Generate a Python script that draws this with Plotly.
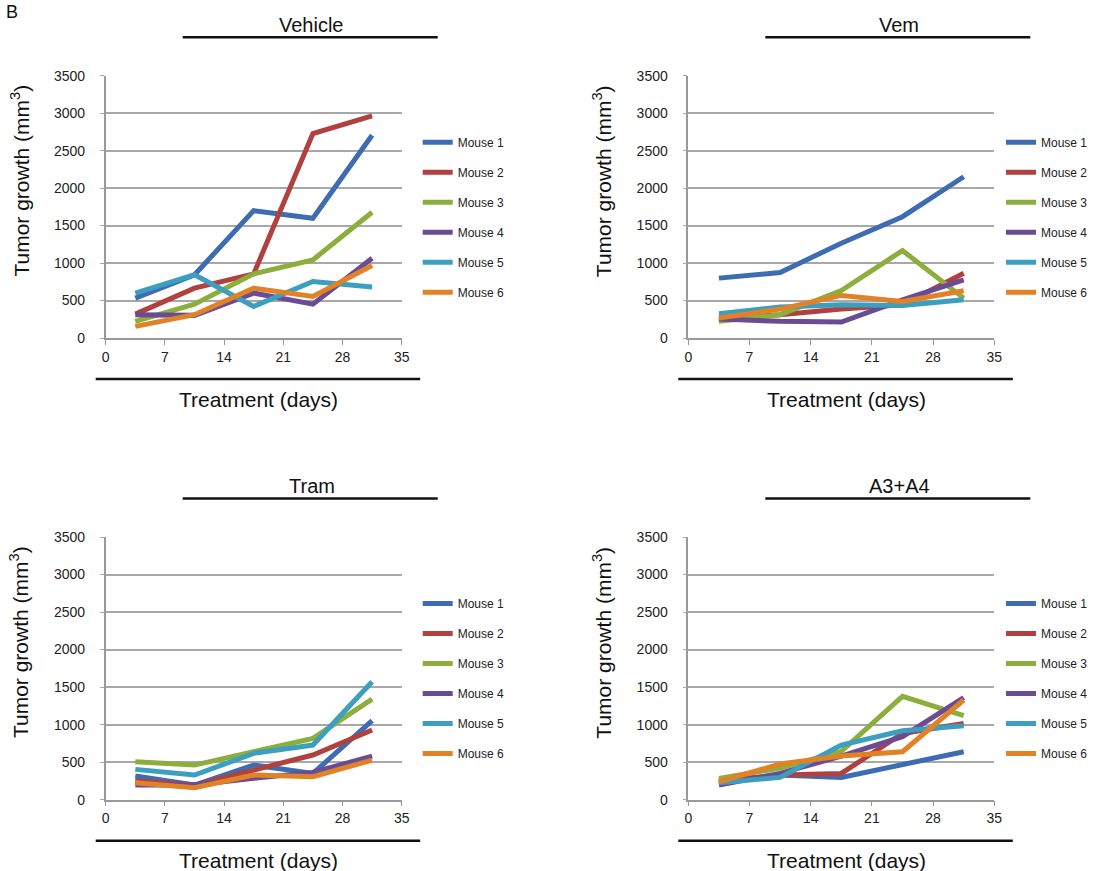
import plotly.graph_objects as go

W, H = 1093, 871

days = [3.5, 10.5, 17.5, 24.5, 31.5]
mice = ["Mouse 1", "Mouse 2", "Mouse 3", "Mouse 4", "Mouse 5", "Mouse 6"]
colors = ["#3d6cb3", "#b0413e", "#8bae3c", "#6a4c94", "#3d9fbf", "#e08225"]
groups = ["Vehicle", "Vem", "Tram", "A3+A4"]

vehicle = [
    [532, 843, 1699, 1597, 2706],
    [319, 665, 856, 2729, 2964],
    [222, 452, 856, 1043, 1677],
    [311, 302, 599, 452, 1065],
    [599, 843, 421, 754, 679],
    [155, 311, 665, 555, 967],
]
vem = [
    [799, 874, 1264, 1619, 2152],
    [266, 311, 386, 444, 865],
    [222, 311, 634, 1167, 532],
    [253, 222, 213, 510, 776],
    [324, 413, 444, 435, 510],
    [266, 386, 568, 488, 630],
]
tram = [
    [315, 195, 461, 350, 1052],
    [253, 195, 395, 595, 928],
    [506, 461, 639, 817, 1341],
    [195, 195, 284, 364, 581],
    [404, 328, 617, 728, 1572],
    [226, 160, 328, 306, 528],
]
a3a4 = [
    [226, 328, 297, 461, 639],
    [253, 328, 350, 883, 1016],
    [284, 421, 644, 1377, 1119],
    [195, 350, 581, 839, 1359],
    [226, 297, 728, 919, 986],
    [239, 475, 581, 639, 1328],
]
panel_data = [vehicle, vem, tram, a3a4]

x_ticks = [0, 7, 14, 21, 28, 35]
y_ticks = [0, 500, 1000, 1500, 2000, 2500, 3000, 3500]

# panel geometry in pixels: (x0, x1, ytop, ybottom)
panels = [
    (105.7, 401.7, 75.7, 338.0),
    (688.3, 994.3, 75.7, 338.0),
    (105.7, 401.7, 537.0, 799.7),
    (688.3, 994.3, 537.0, 799.7),
]

def px(x):
    return x / W

def py(y):
    return 1 - y / H

fig = go.Figure()
FONT = "Liberation Sans, Arial, sans-serif"

layout = dict(
    template="none",
    width=W, height=H,
    margin=dict(l=0, r=0, t=0, b=0, pad=0),
    paper_bgcolor="white", plot_bgcolor="white",
    font=dict(family=FONT, color="#222222"),
    showlegend=True,
)

annotations = []
shapes = []

for i, (name, data, (x0, x1, yt, yb)) in enumerate(zip(groups, panel_data, panels)):
    n = i + 1
    xa = "xaxis" if n == 1 else f"xaxis{n}"
    ya = "yaxis" if n == 1 else f"yaxis{n}"
    xr = "x" if n == 1 else f"x{n}"
    yr = "y" if n == 1 else f"y{n}"
    lg = "legend" if n == 1 else f"legend{n}"
    layout[xa] = dict(
        domain=[px(x0), px(x1)], range=[0, 35], anchor=yr,
        tickvals=x_ticks, ticks="outside", ticklen=5, tickcolor="#999999",
        showline=True, linecolor="#999999", linewidth=1.5,
        showgrid=False, zeroline=False, automargin=False,
        tickfont=dict(size=14, color="#222222", family=FONT),
    )
    layout[ya] = dict(
        domain=[py(yb), py(yt)], range=[0, 3500], anchor=xr,
        tickvals=y_ticks, ticks="outside", ticklen=4, tickcolor="#a8a8a8",
        showline=True, linecolor="#999999", linewidth=1.5,
        showgrid=True, gridcolor="#a8a8a8", gridwidth=1.5,
        zeroline=False, ticklabelstandoff=12, automargin=False,
        tickfont=dict(size=14, color="#222222", family=FONT),
    )
    if n in (1, 3):
        leg_pos = dict(x=px(x1 + 16), xanchor="left")
    else:
        leg_pos = dict(x=1.0, xanchor="right")
    layout[lg] = dict(
        y=py(yt + 52), yanchor="top",
        xref="paper", yref="paper",
        bgcolor="rgba(0,0,0,0)", borderwidth=0,
        font=dict(size=12, color="#222222", family=FONT),
        tracegroupgap=11, itemwidth=30,
        **leg_pos,
    )
    for m, vals, c in zip(mice, data, colors):
        fig.add_trace(go.Scatter(
            x=days, y=vals, mode="lines", name=m,
            line=dict(color=c, width=5),
            xaxis=xr, yaxis=yr, legend=lg, legendgroup=f"{name}-{m}",
        ))
    cx = (x0 + x1) / 2
    # panel title and rule
    annotations.append(dict(
        x=px(cx + 58), y=py(yt - 51), xref="paper", yref="paper",
        text=name, showarrow=False, font=dict(size=20, color="#111111", family=FONT),
        xanchor="center", yanchor="middle",
    ))
    shapes.append(dict(type="line", xref="paper", yref="paper",
                       x0=px(x0 + 77), x1=px(x1 + 36), y0=py(yt - 38.5), y1=py(yt - 38.5),
                       line=dict(color="#111111", width=2.5)))
    # x title and rule
    shapes.append(dict(type="line", xref="paper", yref="paper",
                       x0=px(x0 - 10), x1=px(x1 + 18.5), y0=py(yb + 41), y1=py(yb + 41),
                       line=dict(color="#111111", width=2.5)))
    annotations.append(dict(
        x=px(cx + 5), y=py(yb + 61), xref="paper", yref="paper",
        text="Treatment (days)", showarrow=False,
        font=dict(size=21, color="#111111", family=FONT),
        xanchor="center", yanchor="middle",
    ))
    annotations.append(dict(
        x=px(x0 - 86), y=py((yt + yb) / 2 - 26), xref="paper", yref="paper",
        text="Tumor growth (mm<sup>3</sup>)", showarrow=False, textangle=-90,
        font=dict(size=21, color="#111111", family=FONT),
        xanchor="center", yanchor="middle",
    ))

annotations.append(dict(
    x=px(4), y=1.0, xref="paper", yref="paper", text="B", showarrow=False,
    font=dict(size=18, color="#111111", family=FONT), xanchor="left", yanchor="top",
))

layout["annotations"] = annotations
layout["shapes"] = shapes
fig.update_layout(**layout)
fig.write_html("out.html")
